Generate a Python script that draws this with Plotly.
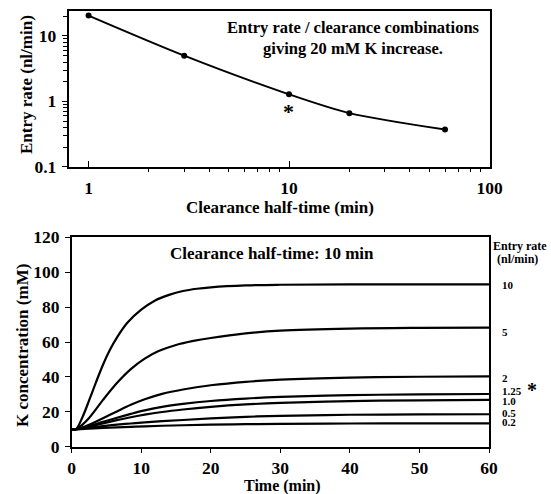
import plotly.graph_objects as go

# ---------------- data ----------------
# Top panel: entry rate / clearance combinations giving 20 mM K increase
clearance_halftime = [1, 3, 10, 20, 60]          # min
entry_rate = [20.5, 5.0, 1.28, 0.66, 0.37]       # nl/min

# Bottom panel: K concentration vs time (clearance half-time 10 min)
rate_labels = ["10", "5", "2", "1.25", "1.0", "0.5", "0.2"]
t_10 = [0, 0.6, 1.5, 2.5, 3.5, 4.5, 5.5, 6.5, 8, 10, 12, 14, 16, 18, 20,
        25, 30, 40, 60]
k_10 = [10, 10, 16.5, 26.5, 37, 47, 55.5, 62.5, 71, 78.5, 83.8, 87, 89.2,
        90.5, 91.3, 92.4, 92.8, 93, 93]
t_5 = [0, 0.6, 1.5, 2.5, 3.5, 4.5, 6.5, 8.5, 10.5, 12.5, 15, 17.5, 20, 25,
       30, 40, 50, 60]
k_5 = [10, 10, 12.5, 16.5, 21.5, 26.8, 36.5, 44.5, 50.5, 54.8, 58.3, 60.6,
       62.3, 64.9, 66.5, 67.7, 68.1, 68.2]
t_low = [0, 0.6, 2.5, 4.5, 6.5, 8.5, 10.5, 13, 16, 20, 25, 30, 40, 50, 60]
k_2 = [10, 10, 12.5, 16.3, 20.2, 24, 27.2, 30.3, 32.8, 35.2, 37.2, 38.4,
       39.6, 40.1, 40.3]
k_125 = [10, 10, 11.8, 14.2, 16.6, 18.8, 20.8, 22.8, 24.5, 26.2, 27.6, 28.5,
         29.5, 30, 30.2]
k_100 = [10, 10, 11.6, 13.4, 15.2, 16.9, 18.4, 19.9, 21.3, 22.8, 24.2, 25.1,
         26.1, 26.6, 26.8]
k_050 = [10, 10, 10.9, 11.8, 12.6, 13.3, 13.9, 14.6, 15.3, 16.2, 17.1, 17.7,
         18.3, 18.5, 18.6]
k_020 = [10, 10, 10.4, 10.8, 11.1, 11.4, 11.7, 12.0, 12.3, 12.6, 12.9, 13.1,
         13.3, 13.4, 13.4]
curves = [(t_10, k_10), (t_5, k_5), (t_low, k_2), (t_low, k_125),
          (t_low, k_100), (t_low, k_050), (t_low, k_020)]

# ---------------- layout helpers ----------------
W, H = 551, 494
FONT = "Liberation Serif"


def px(x):
    return x / W


def py(y):
    return 1 - y / H


fig = go.Figure()

fig.add_trace(go.Scatter(
    x=clearance_halftime, y=entry_rate, mode="lines+markers",
    line=dict(color="black", width=2, shape="spline", smoothing=0.8),
    marker=dict(color="black", size=6), xaxis="x", yaxis="y",
    showlegend=False))

for tt, kk in curves:
    fig.add_trace(go.Scatter(
        x=tt, y=kk, mode="lines",
        line=dict(color="black", width=2.2, shape="spline", smoothing=1.0),
        xaxis="x2", yaxis="y2", showlegend=False))

minor_x = [m * 10 ** e for e in (0, 1) for m in range(2, 10)]
minor_y = [m * 10 ** e for e in (-1, 0, 1) for m in range(2, 10) if m * 10 ** e < 24]

tickfont = dict(family=FONT, size=17.5, color="black", weight="bold")
axline = dict(showline=True, linecolor="black", linewidth=1.5, mirror=True,
              showgrid=False, zeroline=False, automargin=False,
              tickfont=tickfont, tickcolor="black", tickwidth=1.3)

fig.update_layout(
    width=W, height=H, margin=dict(l=0, r=0, t=0, b=0),
    paper_bgcolor="white", plot_bgcolor="white",
    font=dict(family=FONT, color="black"),
    xaxis=dict(type="log", range=[-0.1, 2], domain=[px(68.5), px(489.5)],
               anchor="y", tickvals=[1, 10, 100], ticktext=["1", "10", "100"],
               ticks="inside", ticklen=6, ticklabelstandoff=5,
               minor=dict(tickvals=minor_x, ticks="outside", ticklen=4,
                          tickcolor="black", tickwidth=1.2),
               **axline),
    yaxis=dict(type="log", range=[-1, 1.387], domain=[py(166.7), py(10.7)],
               anchor="x", tickvals=[0.1, 1, 10], ticktext=["0.1", "1", "10"],
               ticks="outside", ticklen=5, ticklabelstandoff=2,
               minor=dict(tickvals=minor_y, ticks="outside", ticklen=4,
                          tickcolor="black", tickwidth=1.2),
               **axline),
    xaxis2=dict(range=[0, 60], domain=[px(71.7), px(489)], anchor="y2",
                dtick=10, ticks="outside", ticklen=5, ticklabelstandoff=0,
                **axline),
    yaxis2=dict(range=[0, 120], domain=[py(446.7), py(237.3)], anchor="x2",
                dtick=20, ticks="outside", ticklen=5, ticklabelstandoff=2,
                **axline),
)

bold = lambda s: dict(family=FONT, size=s, color="black", weight="bold")

annotations = [
    # axis titles
    dict(text="Entry rate (nl/min)", x=px(26), y=py(85), textangle=-90,
         font=bold(17)),
    dict(text="Clearance half-time (min)", x=px(280), y=py(207), font=bold(17)),
    dict(text="K concentration (mM)", x=px(22), y=py(346), textangle=-90,
         font=bold(17)),
    dict(text="Time (min)", x=px(282), y=py(485.5), font=bold(16)),
    # panel texts
    dict(text="Entry rate / clearance combinations<br>giving 20 mM K increase.",
         x=px(353), y=py(37.5), font=bold(16.5)),
    dict(text="Clearance half-time: 10 min", x=px(272), y=py(253),
         font=bold(17)),
    dict(text="Entry rate", x=px(519.5), y=py(245.7), font=bold(12)),
    dict(text="(nl/min)", x=px(517.5), y=py(259), font=bold(12)),
    dict(text="*", x=px(531.7), y=py(390), font=bold(20)),
]
for a in annotations:
    a.update(xref="paper", yref="paper", showarrow=False,
             xanchor="center", yanchor="middle")

# asterisk near the 10-min point of top panel
annotations.append(dict(text="*", x=0.995, y=-0.16, xref="x", yref="y",
                        showarrow=False, font=bold(22),
                        xanchor="center", yanchor="middle"))

# curve labels on right
label_y_px = [285.3, 332.3, 377.7, 390.7, 400.7, 413.3, 421.8]
for lab, ly in zip(rate_labels, label_y_px):
    annotations.append(dict(text=lab, x=px(500), y=py(ly), xref="paper",
                            yref="paper", showarrow=False, font=bold(11),
                            xanchor="left", yanchor="middle"))

fig.update_layout(annotations=annotations)
fig.write_html("out.html")
